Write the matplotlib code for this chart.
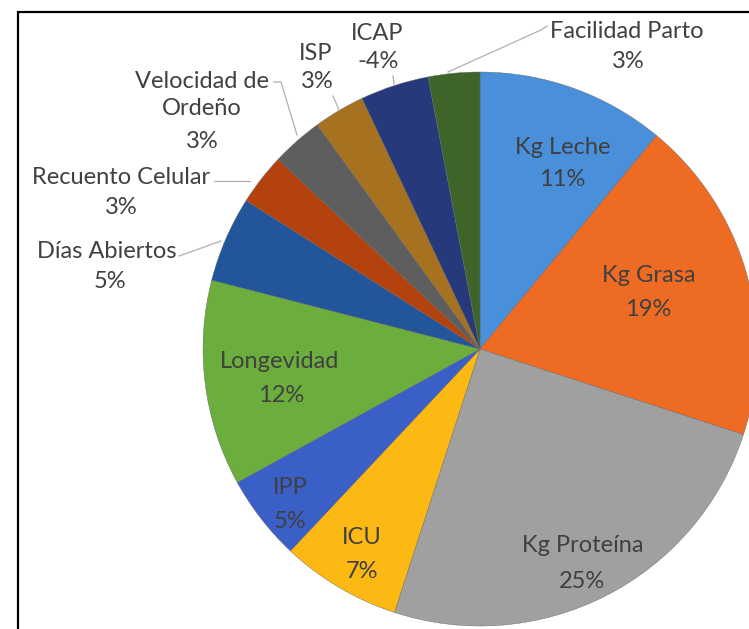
import numpy as np
import matplotlib.pyplot as plt
from matplotlib.patches import Rectangle

# =============================================================================== #
# DATOS

etiquetas = ["Kg Leche", "Kg Grasa", "Kg Proteína", "ICU", "IPP", "Longevidad",
             "Días Abiertos", "Recuento Celular", "Velocidad de\nOrdeño", "ISP",
             "ICAP", "Facilidad Parto"]
valores = [11, 19, 25, 7, 5, 12, 5, 3, 3, 3, 4, 3]
textos_pct = ["11%", "19%", "25%", "7%", "5%", "12%", "5%", "3%", "3%", "3%", "-4%", "3%"]
colores = ["#4A8FDA", "#EE6B23", "#A0A0A0", "#FDB913", "#3A5FC6", "#6BAE3E",
           "#22559A", "#B4420F", "#5E5E5E", "#A6721F", "#26397A", "#3F6429"]

# =============================================================================== #
# FIGURA

W, H = 749, 629
cx, cy, R = 480, 349, 277

fig = plt.figure(figsize=(W / 100, H / 100), dpi=100)
fig.patch.set_facecolor("white")

# marco
fig.add_artist(Rectangle((18 / W, -0.05), 1.2, 1 - 12 / H + 0.05,
                         transform=fig.transFigure, fill=False,
                         edgecolor="black", linewidth=1.6))

ax = fig.add_axes([(cx - R) / W, (H - cy - R) / H, 2 * R / W, 2 * R / H])

wedges, _ = ax.pie(valores, colors=colores, startangle=90, counterclock=False,
                   radius=1, wedgeprops=dict(linewidth=0.3, edgecolor="#666666"))
ax.set_xlim(-1, 1)
ax.set_ylim(-1, 1)
ax.set_aspect("equal")
ax.axis("off")


def px(x, y):
    return (x - cx) / R, (cy - y) / R


fuente = dict(family="Lato", fontsize=17, color="#404040",
              ha="center", va="center", clip_on=False)

# posiciones (pixeles) de nombre y porcentaje
pos_nombre = [(563, 148), (649, 276), (583, 546), (362, 538), (290, 488), (280, 362),
              (107, 252), (121, 177), (202, 95), (316, 53), (377, 33), (627, 32)]
pos_pct = [(562, 180), (648, 310), (582, 581), (362, 572), (290, 522), (281, 396),
           (110, 281), (121, 207), (202, 142), (317, 82), (378, 62), (628, 62)]

for i in range(len(etiquetas)):
    ax.text(*px(*pos_nombre[i]), etiquetas[i], linespacing=1.3, **fuente)
    ax.text(*px(*pos_pct[i]), textos_pct[i], **fuente)

# lineas guia
guias = [
    [(179, 256), (221, 241)],
    [(214, 181), (250, 181)],
    [(274, 82), (281, 82), (297, 135)],
    [(333, 96), (339, 110)],
    [(393, 76), (394, 84)],
    [(547, 26), (541, 30), (448, 72)],
]
for pts in guias:
    xs = [px(*p)[0] for p in pts]
    ys = [px(*p)[1] for p in pts]
    ax.plot(xs, ys, color="#B0B0B0", linewidth=0.9, clip_on=False)

plt.savefig("out.png", dpi=100, facecolor="white")
